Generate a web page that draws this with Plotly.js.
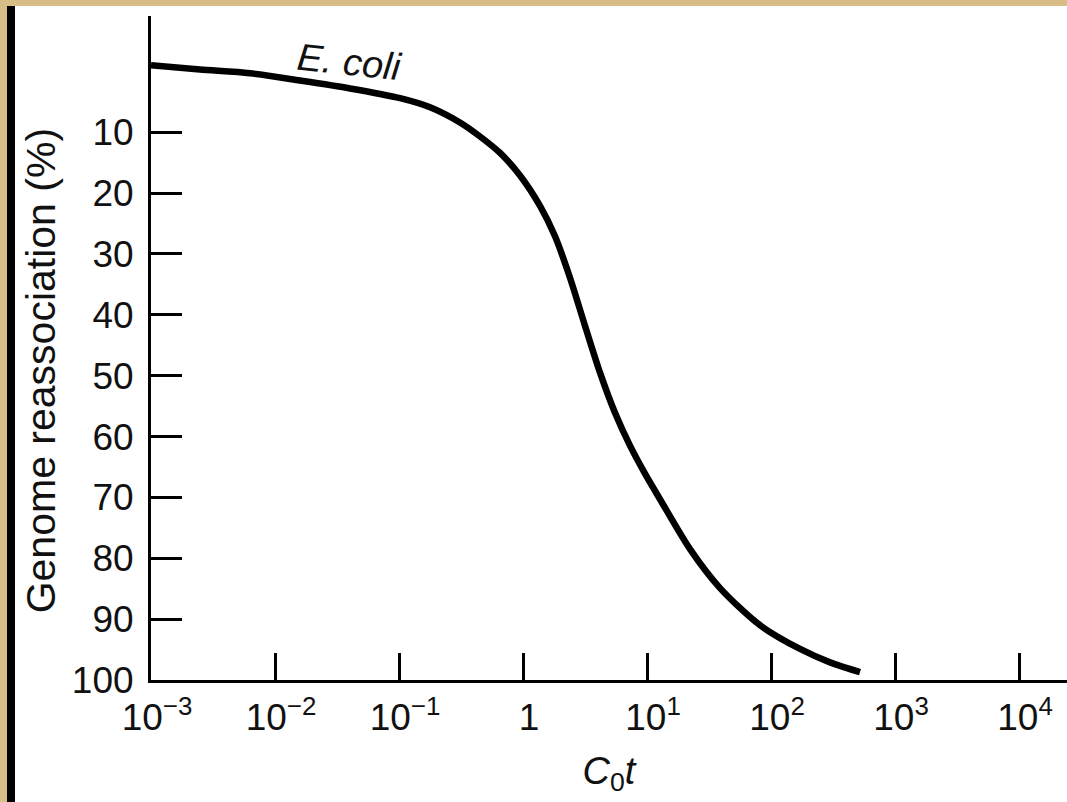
<!DOCTYPE html>
<html>
<head>
<meta charset="utf-8">
<script src="https://cdn.plot.ly/plotly-3.0.1.min.js"></script>
<style>
  html, body { margin: 0; padding: 0; width: 1067px; height: 802px; overflow: hidden; background: #d9bd86; }
  #bar { position: absolute; left: 7px; top: 6px; width: 8px; height: 796px; background: #000; }
  #chart { position: absolute; left: 15px; top: 6px; width: 1052px; height: 796px; background: #fff; }
</style>
</head>
<body>
<div id="bar"></div>
<div id="chart"></div>
<script>
// C0t values (log scale) and genome reassociation (%)
const cotValues = [0.001, 0.00248, 0.00628, 0.0159, 0.0403, 0.102, 0.178, 0.310, 0.450, 0.653, 0.946, 1.371, 1.812, 2.393, 3.162, 4.178, 5.520, 7.294, 9.636, 12.73, 22.23, 38.80, 81.5, 171.4, 299, 522];
const reassociation = [-1.0, -0.3, 0.3, 1.5, 2.8, 4.4, 5.9, 8.4, 10.7, 13.4, 17.1, 22.1, 27.1, 33.9, 41.8, 49.5, 56.1, 61.5, 66.1, 70.3, 78.5, 84.9, 91.0, 94.9, 97.1, 98.7];

const xTickVals = [0.001, 0.01, 0.1, 1, 10, 100, 1000, 10000];
const xTickText = ['10<sup>\u22123</sup>', '10<sup>\u22122</sup>', '10<sup>\u22121</sup>', '1', '10<sup>1</sup>', '10<sup>2</sup>', '10<sup>3</sup>', '10<sup>4</sup>'];
const yTickVals = [-9, 10, 20, 30, 40, 50, 60, 70, 80, 90, 100];
const yTickText = ['', '10', '20', '30', '40', '50', '60', '70', '80', '90', '100'];

const xTitle = '<i>C</i><sub>0</sub><i>t</i>';
const yTitle = 'Genome reassociation (%)';
const seriesLabel = 'E. coli';
const labelCot = 0.04;
const labelPct = -1.6;

const font = 'Liberation Sans, Arial, sans-serif';

const trace = {
  x: cotValues,
  y: reassociation,
  type: 'scatter',
  mode: 'lines',
  line: { color: '#000', width: 6.5, shape: 'spline', smoothing: 0.8 },
  hoverinfo: 'skip',
  showlegend: false
};

const layout = {
  width: 1052,
  height: 796,
  margin: { l: 136, r: 0, t: 10, b: 122 },
  paper_bgcolor: '#fff',
  plot_bgcolor: '#fff',
  font: { family: font, color: '#111', size: 37 },
  showlegend: false,
  xaxis: {
    type: 'log',
    range: [-3, 4.387],
    autorange: false,
    showgrid: false,
    zeroline: false,
    showline: true,
    linecolor: '#000',
    linewidth: 3,
    ticks: 'inside',
    ticklen: 27,
    tickwidth: 3,
    tickcolor: '#000',
    tickvals: xTickVals,
    ticktext: xTickText,
    ticklabelshift: 6,
    ticklabelstandoff: 3,
    tickfont: { family: font, size: 37, color: '#111' },
    title: { text: xTitle, font: { family: font, size: 38, color: '#111' }, standoff: 20 }
  },
  yaxis: {
    range: [100, -9.1],
    autorange: false,
    showgrid: false,
    zeroline: false,
    showline: true,
    linecolor: '#000',
    linewidth: 3,
    ticks: 'inside',
    ticklen: 31,
    tickwidth: 3,
    tickcolor: '#000',
    tickvals: yTickVals,
    ticktext: yTickText,
    ticklabelstandoff: 7,
    tickfont: { family: font, size: 37, color: '#111' }
  },
  annotations: [{
    x: Math.log10(labelCot),
    y: labelPct,
    xref: 'x',
    yref: 'y',
    text: '<i>' + seriesLabel + '</i>',
    showarrow: false,
    textangle: 6,
    font: { family: font, size: 38, color: '#111' }
  }, {
    x: -0.12,
    y: 0.465,
    xref: 'paper',
    yref: 'paper',
    xanchor: 'center',
    yanchor: 'middle',
    text: yTitle,
    showarrow: false,
    textangle: -90,
    font: { family: font, size: 41, color: '#111' }
  }]
};

Plotly.newPlot('chart', [trace], layout, { displayModeBar: false, staticPlot: true });
</script>
</body>
</html>
